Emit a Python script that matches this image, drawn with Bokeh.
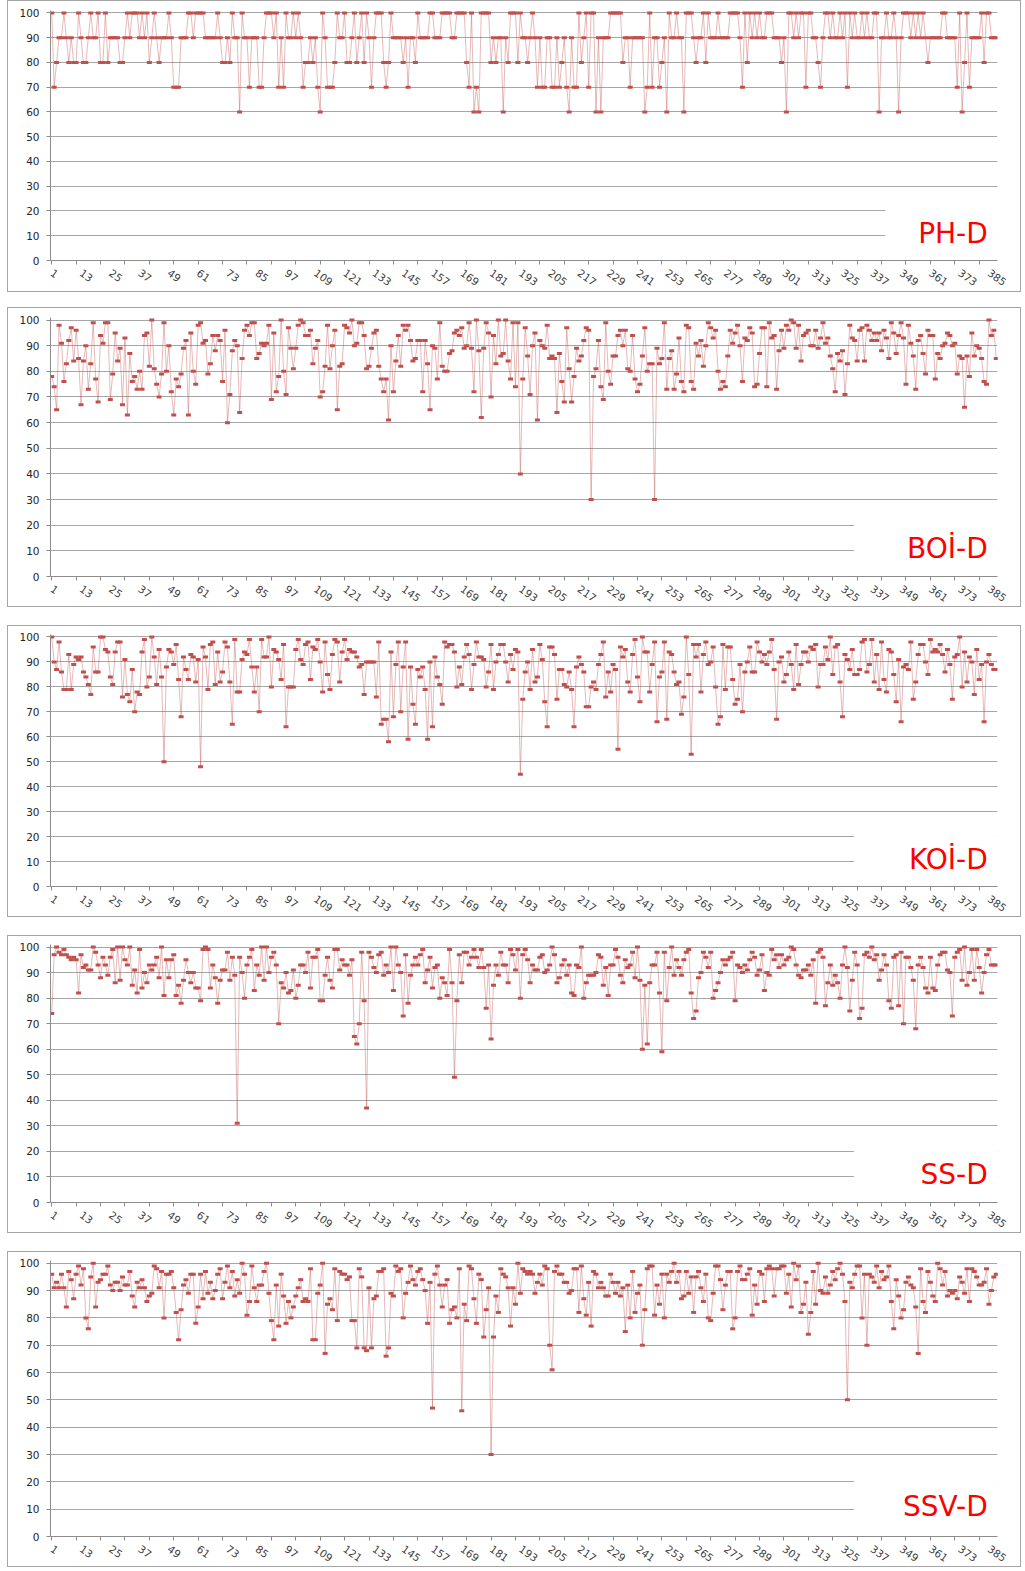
from bokeh.plotting import figure
from bokeh.layouts import column
from bokeh.models import Range1d, FixedTicker, BoxAnnotation, Label
from bokeh.embed import file_html
from bokeh.resources import INLINE

# ---------------- data ----------------
ph_d = [100,70,80,90,90,100,90,80,90,80, 80,100,90,80,80,90,100,90,90,100,
        80,80,100,80,90,90,90,90,80,80, 90,100,90,100,100,100,90,100,90,100,
        80,90,100,90,80,90,90,90,100,90, 70,70,70,90,90,90,100,100,90,100,
        100,100,100,90,90,90,90,90,100,90, 80,80,90,80,100,90,90,60,100,90,
        90,70,90,90,90,70,70,90,100,100, 100,90,100,70,90,70,100,90,90,100,
        90,100,90,70,80,80,90,80,90,70, 60,100,90,70,70,70,80,100,90,90,
        100,80,80,90,100,80,90,100,80,100, 90,70,90,100,100,100,80,70,80,100,
        90,90,90,90,80,90,70,90,90,80, 100,90,90,90,90,100,100,90,90,90,
        100,100,100,100,90,90,100,100,100,100, 80,70,100,60,70,60,100,100,100,100,
        80,90,80,90,90,60,90,80,100,100, 100,80,100,90,90,80,90,
        100,90,70,90,70,70,90,90,70,70, 90,70,80,90,70,60,90,70,70,100,
        80,90,100,70,100,100,60,90,60,90, 90,90,100,100,100,100,100,80,90,90,
        70,90,90,90,90,90,60,70,100,70, 90,90,70,80,90,60,100,90,90,100,
        90,90,60,100,100,100,90,80,90,90, 100,80,100,90,90,90,100,90,90,90,
        90,100,100,100,100,90,70,100,80,100, 90,100,90,100,90,90,100,100,100,90,
        90,90,80,90,60,100,100,90,100,90, 100,100,70,100,100,90,90,80,70,90,
        100,100,90,100,90,90,100,90,100,70, 100,90,100,90,90,100,90,100,90,90,
        100,100,60,90,90,100,90,90,100,90, 60,90,100,100,100,90,100,90,100,90,
        100,90,80,90,90,90,90,90,100,100, 90,90,90,90,70,100,60,80,100,70,
        90,90,90,90,100,80,100,100,90,90, 90]

boi_d = [78,74,65,98,91,76,83,92,97,84, 96,85,67,84,90,73,83,99,77,68,
         94,91,99,99,69,79,95,84,89,67, 93,63,87,76,78,73,80,73,94,95,
         82,100,81,75,70,79,99,80,90,72, 63,77,74,79,89,92,63,95,80,75,
         98,99,91,92,79,83,94,88,94,92, 76,96,60,71,88,92,90,64,85,96,
         98,94,99,99,85,87,91,90,91,98, 69,95,72,78,100,80,71,97,89,81,
         89,98,100,99,94,94,96,83,89,92, 70,72,82,98,81,90,96,65,82,83,
         98,97,95,100,90,91,99,99,94,81, 82,89,95,96,82,77,72,77,61,90,
         72,84,94,82,98,96,98,92,84,85, 92,92,72,92,83,65,90,89,77,99,
         82,80,80,87,88,95,96,94,97,89, 90,99,89,72,100,88,62,89,99,95,
         70,94,83,100,86,87,100,84,77,99, 74,99,40,
         77,97,86,71,90,95,61,92,90,89, 98,85,86,85,64,87,76,68,97,81,
         68,78,89,84,86,92,97,96,30,78, 81,92,74,69,99,80,75,86,86,94,
         96,90,96,81,80,94,77,72,75,86, 97,80,83,83,30,89,83,85,99,73,
         85,88,73,79,93,76,72,98,97,76, 73,91,86,92,82,90,99,97,93,96,
         80,73,76,74,86,96,91,95,98,90, 76,93,92,97,95,74,75,87,97,97,
         74,99,93,94,73,88,96,89,98,96, 100,99,89,98,84,94,95,96,90,90,
         96,89,93,99,91,93,86,81,72,87, 84,88,71,83,98,93,92,84,96,97,
         84,98,96,92,95,92,95,88,96,93, 85,99,95,87,94,99,93,75,98,91,
         86,73,92,94,87,79,96,94,94,77, 87,85,90,91,95,94,90,91,79,86,
         85,66,86,78,95,86,90,89,85,76, 75,100,94,96,85,85]

koi_d = [100,90,87,98,86,79,79,93,79,89, 92,91,92,86,84,81,77,96,86,86,
         100,100,95,94,84,81,94,98,98,76, 91,77,74,87,70,78,77,94,99,80,
         84,100,92,81,95,84,50,88,95,94, 89,97,83,68,92,87,83,93,92,82,
         91,48,96,92,79,97,98,81,94,82, 86,98,96,82,65,99,78,78,91,94,
         93,99,88,78,88,70,99,92,92,100, 80,95,94,91,83,97,64,80,80,80,
         95,99,91,89,97,98,83,96,95,99, 90,78,98,85,79,93,99,98,82,94,
         99,91,95,94,94,92,88,89,77,90, 90,90,90,76,98,65,67,67,58,94,
         68,89,98,70,88,98,59,88,73,65, 87,84,88,79,59,90,64,92,84,81,
         73,98,96,97,97,94,80,88,81,92, 97,93,79,89,98,92,92,91,80,86,
         97,79,90,93,97,97,90,82,93,87, 95,94,45,
         75,86,90,79,95,82,84,97,91,74, 64,96,96,93,75,87,87,81,80,86,
         79,64,88,92,89,86,72,72,80,82, 79,89,93,98,76,86,78,89,87,55,
         96,92,95,82,78,93,99,84,74,100, 94,94,78,89,98,66,84,86,98,67,
         94,93,86,81,82,69,76,100,85,53, 97,92,97,78,93,98,89,90,96,80,
         65,68,97,79,96,96,83,73,75,89, 70,86,90,96,86,86,98,94,90,93,
         89,94,99,87,67,90,92,82,85,94, 89,79,97,81,89,94,94,90,96,95,
         97,80,89,89,96,91,100,85,96,97, 82,68,93,91,87,95,85,85,87,98,
         99,86,89,99,82,93,79,98,83,78, 95,94,85,74,91,66,88,89,87,98,
         75,82,93,97,97,90,85,99,94,95, 94,97,93,86,95,89,75,92,93,100,
         80,94,82,92,90,77,95,83,89,66, 90,93,89,87,87]

ss_d = [74,97,100,98,97,99,97,96,95,96, 95,82,97,92,93,91,91,100,98,93,
        88,96,93,89,96,99,86,100,87,100, 95,93,100,85,91,82,99,84,90,86,
        93,91,93,96,88,100,81,95,88,95, 97,81,85,78,87,95,90,86,90,84,
        84,79,99,100,99,84,93,88,78,87, 91,91,98,87,96,89,31,96,90,80,
        93,96,99,83,93,89,100,87,100,90, 96,98,93,70,86,84,90,82,83,91,
        80,85,93,93,90,98,84,96,96,99, 79,79,89,96,87,84,99,99,91,95,
        93,93,89,95,65,62,70,98,79,37, 98,96,92,90,97,98,89,93,90,100,
        83,100,93,90,73,97,78,89,93,96, 93,97,99,86,91,96,84,92,93,80,
        88,86,81,99,86,49,79,97,86,98, 98,93,96,99,96,92,99,92,76,93,
        64,85,93,89,98,93,93,86,99,97, 91,99,80,97,99,95,86,
        93,91,91,96,97,90,91,93,100,97, 86,88,93,95,89,93,82,81,93,92,
        100,80,86,89,89,89,90,97,96,85, 92,81,93,93,99,96,89,86,95,92,
        93,98,88,100,87,60,85,62,86,93, 93,98,82,59,98,79,92,100,89,95,
        92,89,95,98,99,82,72,75,88,90, 98,96,92,98,80,83,86,90,95,93,
        95,96,98,79,93,92,90,93,91,95, 98,96,89,91,97,83,90,89,99,95,
        97,92,97,93,95,96,100,99,93,89, 88,91,91,93,89,95,78,98,99,96,
        77,86,93,85,89,86,80,93,100,92, 75,87,98,93,72,76,97,98,96,100,
        95,97,87,91,97,93,79,76,96,97, 77,98,70,96,96,92,87,68,93,96,
        92,84,82,96,84,83,93,97,98,98, 91,90,73,96,98,99,87,100,85,90,
        99,87,99,92,82,90,97,99,93,93, 93]

ssv_d = [96,91,93,91,96,91,84,97,94,87, 96,99,92,98,80,76,95,100,84,93,
         94,96,96,99,92,90,93,93,90,95, 92,92,97,88,84,93,91,94,91,86,
         88,89,99,98,91,97,80,96,96,97, 91,82,72,83,92,94,89,96,96,78,
         84,96,87,97,89,93,87,90,96,98, 87,93,99,91,97,88,94,89,100,96,
         81,86,99,91,86,92,92,97,100,89, 79,72,92,77,96,88,78,86,80,84,
         88,91,94,86,87,86,98,72,72,89, 92,100,67,85,87,83,98,79,97,96,
         96,94,95,79,79,69,98,95,69,68, 91,69,87,88,97,97,98,66,69,89,
         88,99,97,98,80,89,93,99,94,92, 97,98,94,90,78,93,47,96,99,92,
         84,92,94,78,83,84,80,98,46,85, 79,99,98,87,78,96,94,73,83,91,
         30,73,88,82,98,96,95,91,77,91, 85,100,89,98,97,96,
         97,96,89,93,96,92,99,98,70,61, 97,99,96,96,93,93,89,90,98,98,
         82,99,87,81,93,77,97,96,91,93, 91,88,88,96,93,89,93,88,91,75,
         92,80,97,82,89,92,70,83,98,99, 99,81,92,85,96,80,96,93,97,100,
         93,97,87,88,97,89,95,82,95,97, 91,86,96,80,79,89,99,99,94,83,
         92,97,97,76,80,97,99,94,94,96, 98,81,92,85,97,96,86,98,99,98,
         88,98,98,99,99,89,96,84,100,94, 99,82,85,93,74,82,97,85,100,90,
         89,95,89,92,97,94,98,100,96,86, 50,93,91,96,99,99,80,96,70,96,
         95,93,99,91,97,94,95,99,86,76, 94,88,80,83,93,95,92,91,84,67,
         98,86,82,97,93,88,86,100,98,92, 97,88,90,89,90,87,95,93,89,98,
         86,98,97,95,92,92,93,98,85,90, 95,96,96]

panel_labels = ["PH-D", "BOİ-D", "KOİ-D", "SS-D", "SSV-D"]
x_tick_labels = [1, 13, 25, 37, 49, 61, 73, 85, 97, 109, 121, 133, 145, 157, 169,
                 181, 193, 205, 217, 229, 241, 253, 265, 277, 289, 301, 313, 325,
                 337, 349, 361, 373, 385]
x_tick_marks = [1, 11, 21, 31, 41, 51, 61, 71, 81, 91, 101, 111, 121, 131, 141, 151,
                161, 171, 181, 191, 201, 211, 221, 231, 241, 251, 261, 271, 281, 291,
                301, 311, 321, 331, 341, 351, 361, 371, 381]
y_ticks = [0, 10, 20, 30, 40, 50, 60, 70, 80, 90, 100]
N_CAT = 388

# ---------------- styling ----------------
LINE_C = "#C0504D"
MARK_C = "#C0504D"
GRID_C = "#A6A6A6"
AXIS_C = "#8C8C8C"
BORDER_C = "#A6A6A6"

# (values, label, frame_height, min_border_top, min_border_bottom, margin_top, mask_left)
specs = [
    (ph_d,  panel_labels[0], 248, 9, 33, 0, 342.5),
    (boi_d, panel_labels[1], 257, 9, 32, 15, 329.7),
    (koi_d, panel_labels[2], 250, 8, 32, 18, 329.7),
    (ss_d,  panel_labels[3], 256, 8, 31, 18, 329.7),
    (ssv_d, panel_labels[4], 274, 8, 30, 18, 329.7),
]


def make_panel(vals, label, fh, mbt, mbb, mtop, mask_left):
    xs = list(range(1, len(vals) + 1))
    p = figure(frame_width=945, frame_height=fh,
               x_range=Range1d(0.5, N_CAT + 0.5), y_range=Range1d(0, 101),
               output_backend="svg", toolbar_location=None,
               min_border_left=42, min_border_right=25,
               min_border_top=mbt, min_border_bottom=mbb,
               background_fill_color="white", border_fill_color="white",
               outline_line_color=None)
    p.margin = (mtop, 0, 0, 7)
    p.styles = {"border": "1px solid " + BORDER_C}

    # grid
    p.xgrid.grid_line_color = None
    p.ygrid.grid_line_color = GRID_C
    p.ygrid.grid_line_width = 1

    # y axis
    p.yaxis.ticker = FixedTicker(ticks=y_ticks)
    p.yaxis.axis_line_color = AXIS_C
    p.yaxis.major_tick_line_color = AXIS_C
    p.yaxis.major_tick_out = 4
    p.yaxis.major_tick_in = 0
    p.yaxis.minor_tick_line_color = None
    p.yaxis.major_label_text_font = "DejaVu Sans"
    p.yaxis.major_label_text_font_size = "10.5px"
    p.yaxis.major_label_text_color = "#262626"
    p.yaxis.major_label_standoff = 7

    # x axis
    p.xaxis.ticker = FixedTicker(ticks=x_tick_labels, minor_ticks=x_tick_marks)
    p.xaxis.axis_line_color = AXIS_C
    p.xaxis.major_tick_line_color = None
    p.xaxis.major_tick_out = 4
    p.xaxis.major_tick_in = 0
    p.xaxis.minor_tick_line_color = AXIS_C
    p.xaxis.minor_tick_out = 4
    p.xaxis.minor_tick_in = 0
    p.xaxis.major_label_orientation = -0.62
    p.xaxis.major_label_text_font = "DejaVu Sans"
    p.xaxis.major_label_text_font_size = "10.5px"
    p.xaxis.major_label_text_color = "#404040"
    p.xaxis.major_label_standoff = 7

    # white box behind the series name (covers the lower gridlines)
    p.add_layout(BoxAnnotation(left=mask_left, bottom=2, top=27,
                               fill_color="white", fill_alpha=1.0,
                               line_color=None))

    p.line(xs, vals, line_color=LINE_C, line_alpha=0.4, line_width=1)
    p.rect(xs, vals, width=5, height=3, width_units="screen",
           height_units="screen", fill_color=MARK_C, line_color=None)

    p.add_layout(Label(x=384.5, y=11, text=label, text_align="right",
                       text_baseline="middle", text_color="#FF0000",
                       text_font="DejaVu Sans", text_font_size="28px"))
    return p


panels = [make_panel(*s) for s in specs]
layout = column(*panels, spacing=0)

open("out.html", "w").write(file_html(layout, INLINE))
